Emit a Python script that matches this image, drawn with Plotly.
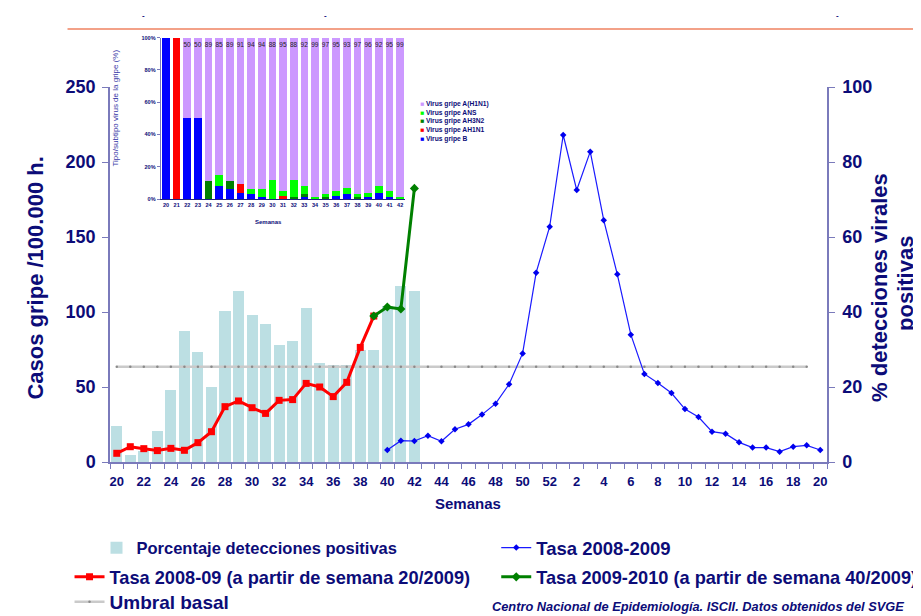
import plotly.graph_objects as go

# ---------------- data ----------------
week_labels = ["20", "21", "22", "23", "24", "25", "26", "27", "28", "29", "30", "31", "32",
               "33", "34", "35", "36", "37", "38", "39", "40", "41", "42", "43", "44", "45",
               "46", "47", "48", "49", "50", "51", "52", "1", "2", "3", "4", "5", "6", "7",
               "8", "9", "10", "11", "12", "13", "14", "15", "16", "17", "18", "19", "20"]

# % detecciones positivas (weeks 20..42 of 2009)
pct_positive = [9.6, 1.9, 3.0, 8.3, 19.2, 35.0, 29.3, 20.0, 40.4, 45.6, 39.1, 36.7, 31.2,
                32.3, 41.2, 26.3, 26.0, 26.0, 29.9, 29.9, 41.6, 47.0, 45.6]

# Tasa 2008-09 (a partir de semana 20/2009): weeks 20..39
tasa_0809 = [5.8, 10.2, 8.9, 7.6, 9.1, 7.8, 12.9, 20.2, 36.9, 40.7, 36.2, 32.4, 41.1, 41.6,
             52.4, 50.0, 43.6, 53.1, 76.4, 97.3]

# Tasa 2009-2010 (a partir de semana 40/2009): weeks 39..42
tasa_0910 = [97.3, 103.3, 102.0, 182.4]

# Tasa 2008-2009: weeks 40..52, 1..20
tasa_2008_2009 = [8.0, 14.2, 14.0, 17.5, 13.8, 21.8, 25.1, 31.6, 38.9, 51.8, 72.4, 126.2,
                  156.9, 218.0, 181.3, 206.9, 161.1, 125.1, 84.9, 58.7, 52.7, 46.0, 35.3,
                  30.0, 20.2, 18.9, 13.1, 9.6, 9.6, 6.9, 10.2, 11.1, 8.0]

# Umbral basal: weeks 20..19
umbral_basal = [63.5, 63.5, 63.5, 63.5, 63.5, 63.5, 63.5, 63.5, 63.5, 63.5, 63.5, 63.5, 63.5,
                63.5, 63.5, 63.5, 63.5, 63.5, 63.5, 63.5, 63.5, 63.5, 63.5, 63.5, 63.5, 63.5,
                63.5, 63.5, 63.5, 63.5, 63.5, 63.5, 63.5, 63.5, 63.5, 63.5, 63.5, 63.5, 63.5,
                63.5, 63.5, 63.5, 63.5, 63.5, 63.5, 63.5, 63.5, 63.5, 63.5, 63.5, 63.5, 63.5]

x_tick_labels = ["20", "22", "24", "26", "28", "30", "32", "34", "36", "38", "40", "42", "44",
                 "46", "48", "50", "52", "2", "4", "6", "8", "10", "12", "14", "16", "18", "20"]

# Inset: tipo/subtipo de virus (%) weeks 20..42
inset_weeks = ["20", "21", "22", "23", "24", "25", "26", "27", "28", "29", "30", "31", "32",
               "33", "34", "35", "36", "37", "38", "39", "40", "41", "42"]
virus_B = [100, 0, 50, 50, 0, 8, 6, 4, 3, 1, 0, 0, 0, 1, 0, 0, 2, 3, 0, 1, 4, 1, 0]
virus_AH1N1 = [0, 100, 0, 0, 0, 0, 0, 5, 0, 0, 0, 2, 0, 0, 0, 0, 0, 0, 0, 0, 0, 0, 0]
virus_AH3N2 = [0, 0, 0, 0, 11, 0, 5, 0, 0, 0, 0, 0, 1, 2, 0, 1, 0, 0, 1, 0, 0, 0, 0]
virus_ANS = [0, 0, 0, 0, 0, 7, 0, 0, 3, 5, 12, 3, 11, 5, 1, 2, 3, 4, 2, 3, 4, 4, 1]
virus_pandemic = [0, 0, 50, 50, 89, 85, 89, 91, 94, 94, 88, 95, 88, 92, 99, 97, 95, 93, 97,
                  96, 92, 95, 99]

# ---------------- styling ----------------
NAVY = "#0c0c78"
AXC = "#7a7abb"
ARIAL = "Liberation Sans, Arial, sans-serif"

n = len(week_labels)
idx = list(range(n))
i_red0 = week_labels.index("20")
i_40 = week_labels.index("40")
i_39 = week_labels.index("39")

fig = go.Figure()

fig.add_trace(go.Bar(
    x=idx[:len(pct_positive)], y=pct_positive, width=0.82,
    marker=dict(color="#bcdfe3", line=dict(width=0)),
    name="Porcentaje detecciones positivas", legend="legend",
    xaxis="x", yaxis="y"))

fig.add_trace(go.Scatter(
    x=idx[:len(umbral_basal)], y=umbral_basal, mode="lines+markers",
    line=dict(color="#cacaca", width=2.5), marker=dict(symbol="circle", size=2.5, color="#8a8a8a"),
    name="Umbral basal", legend="legend5", xaxis="x", yaxis="y2"))

fig.add_trace(go.Scatter(
    x=idx[i_40:i_40 + len(tasa_2008_2009)], y=tasa_2008_2009, mode="lines+markers",
    line=dict(color="#1a1aff", width=1.2), marker=dict(symbol="diamond", size=5, color="#0000ee"),
    name="Tasa 2008-2009", legend="legend2", xaxis="x", yaxis="y2"))

fig.add_trace(go.Scatter(
    x=idx[i_red0:i_red0 + len(tasa_0809)], y=tasa_0809, mode="lines+markers",
    line=dict(color="#ff0000", width=3), marker=dict(symbol="square", size=7, color="#ff0000"),
    name="Tasa 2008-09 (a partir de semana 20/2009)", legend="legend3",
    xaxis="x", yaxis="y2"))

fig.add_trace(go.Scatter(
    x=idx[i_39:i_39 + len(tasa_0910)], y=tasa_0910, mode="lines+markers",
    line=dict(color="#008000", width=3), marker=dict(symbol="diamond", size=7, color="#008000"),
    name="Tasa 2009-2010 (a partir de semana 40/2009)", legend="legend4",
    xaxis="x", yaxis="y2"))

# ---------------- inset stacked bars ----------------
inset_series = [
    ("Virus gripe B", virus_B, "#0000ff"),
    ("Virus gripe AH1N1", virus_AH1N1, "#ff0000"),
    ("Virus gripe AH3N2", virus_AH3N2, "#008000"),
    ("Virus gripe ANS", virus_ANS, "#00ff00"),
    ("Virus gripe A(H1N1)", virus_pandemic, "#cc99ff"),
]
for name, vals, col in inset_series:
    kw = {}
    if vals is virus_pandemic:
        kw = dict(text=[str(v) if v else "" for v in vals], textposition="inside",
                  insidetextanchor="end", textangle=0, constraintext="none",
                  textfont=dict(family=ARIAL, size=6.5, color="#222222"))
    fig.add_trace(go.Bar(x=inset_weeks, y=vals, width=0.72, name=name,
                         marker=dict(color=col, line=dict(width=0)),
                         showlegend=False, xaxis="x2", yaxis="y3", **kw))

# ---------------- layout ----------------
# the page adds an 8px body margin, so the figure is drawn 8px in from the window
OFF = 8
FIG_W, FIG_H = 921 - OFF, 616 - OFF
PLOT_L, PLOT_R, PLOT_T, PLOT_B = 109.5, 827.0, 30.0, 462.0   # window pixels
W = PLOT_R - PLOT_L
H = PLOT_B - PLOT_T


def px(x):
    return (x - PLOT_L) / W


def py(y):
    return (PLOT_B - y) / H


tickvals_main = idx[::2]
boundaries = [i - 0.5 for i in range(n + 1)]


def leg(text_x, row_y, size):
    return dict(x=px(text_x - 41), y=py(row_y), xanchor="left", yanchor="middle",
                bgcolor="rgba(0,0,0,0)", orientation="v",
                font=dict(family=ARIAL, size=size, color=NAVY, weight="bold"))


fig.update_layout(
    width=FIG_W, height=FIG_H,
    margin=dict(l=PLOT_L - OFF, r=FIG_W - (PLOT_R - OFF), t=PLOT_T - OFF,
                b=FIG_H - (PLOT_B - OFF), autoexpand=False),
    paper_bgcolor="white", plot_bgcolor="rgba(0,0,0,0)",
    barmode="stack",
    showlegend=True,
    xaxis=dict(domain=[0, 1], range=[-0.5, n - 0.5], anchor="y",
               tickmode="array", tickvals=tickvals_main, ticktext=x_tick_labels,
               ticks="", showline=True, linecolor=AXC, linewidth=1.5,
               showgrid=False, zeroline=False, ticklabelstandoff=7,
               tickfont=dict(family=ARIAL, size=13, color=NAVY, weight="bold"),
               minor=dict(tickmode="array", tickvals=boundaries, ticks="outside",
                          ticklen=5, tickcolor=AXC, tickwidth=1.2)),
    yaxis=dict(domain=[0, py(87)], range=[0, 100], side="right", anchor="x",
               tickmode="linear", tick0=0, dtick=20, ticks="outside", ticklen=6,
               tickcolor=AXC, showline=True, linecolor=AXC, linewidth=1.5,
               showgrid=False, zeroline=False, ticklabelstandoff=4,
               tickfont=dict(family=ARIAL, size=18, color=NAVY, weight="bold")),
    yaxis2=dict(range=[0, 250], side="left", overlaying="y", anchor="x",
                tickmode="linear", tick0=0, dtick=50, ticks="outside", ticklen=6,
                tickcolor=AXC, showline=True, linecolor=AXC, linewidth=1.5,
                showgrid=False, zeroline=False, ticklabelstandoff=3,
                tickfont=dict(family=ARIAL, size=18, color=NAVY, weight="bold")),
    xaxis2=dict(domain=[px(160.2), px(405.2)], anchor="y3", type="category",
                ticks="", showline=True, linecolor="#202080", linewidth=1.2,
                showgrid=False, zeroline=False, tickangle=0,
                tickfont=dict(family=ARIAL, size=5.5, color=NAVY, weight="bold")),
    yaxis3=dict(domain=[py(199), py(37.7)], anchor="x2", range=[0, 100],
                tickmode="linear", tick0=0, dtick=20, ticksuffix="%",
                ticks="outside", ticklen=3, tickcolor=AXC,
                showline=True, linecolor=AXC, linewidth=1,
                showgrid=False, zeroline=False,
                tickfont=dict(family=ARIAL, size=5.5, color=NAVY, weight="bold")),
    legend=leg(137, 548, 16.5),
    legend2=leg(537, 548, 18.5),
    legend3=leg(110, 577, 18.2),
    legend4=leg(537, 577, 18.2),
    legend5=leg(110, 602, 19),
)

annotations = [
    dict(text="Casos gripe /100.000 h.", x=px(34), y=py(278), textangle=-90,
         font=dict(family=ARIAL, size=22, color=NAVY, weight="bold")),
    dict(text="% detecciones virales", x=px(879), y=py(287), textangle=-90,
         font=dict(family=ARIAL, size=22, color=NAVY, weight="bold")),
    dict(text="positivas", x=px(905), y=py(283), textangle=-90,
         font=dict(family=ARIAL, size=22, color=NAVY, weight="bold")),
    dict(text="Semanas", x=px(468), y=py(503),
         font=dict(family=ARIAL, size=15, color=NAVY, weight="bold")),
    dict(text="Centro Nacional de Epidemiología. ISCII. Datos obtenidos del SVGE",
         x=px(698), y=py(606),
         font=dict(family=ARIAL, size=12.8, color=NAVY, weight="bold", style="italic")),
    dict(text="Tipo/subtipo virus de la gripe (%)", x=px(115), y=py(108), textangle=-90,
         font=dict(family=ARIAL, size=8, color="#3a3aa8")),
    dict(text="Semanas", x=px(268), y=py(222),
         font=dict(family=ARIAL, size=6, color=NAVY, weight="bold")),
    dict(text="<br>".join("<span style='color:%s'>■</span> %s" % (c, nm)
                          for nm, _, c in reversed(inset_series)),
         x=px(418), y=py(121), xanchor="left", align="left",
         font=dict(family=ARIAL, size=6.7, color=NAVY, weight="bold")),
]
for xx in (143, 325, 838):
    annotations.append(dict(text="-", x=px(xx), y=py(9), yanchor="top",
                            font=dict(family=ARIAL, size=8, color=NAVY, weight="bold")))
for a in annotations:
    a.setdefault("xref", "paper")
    a.setdefault("yref", "paper")
    a.setdefault("showarrow", False)
    a.setdefault("xanchor", "center")
    a.setdefault("yanchor", "middle")
fig.update_layout(annotations=annotations)

fig.add_shape(type="line", xref="paper", yref="paper", x0=px(67), x1=px(921),
              y0=py(29), y1=py(29), line=dict(color="#f3a188", width=2))

fig.write_html("out.html")
